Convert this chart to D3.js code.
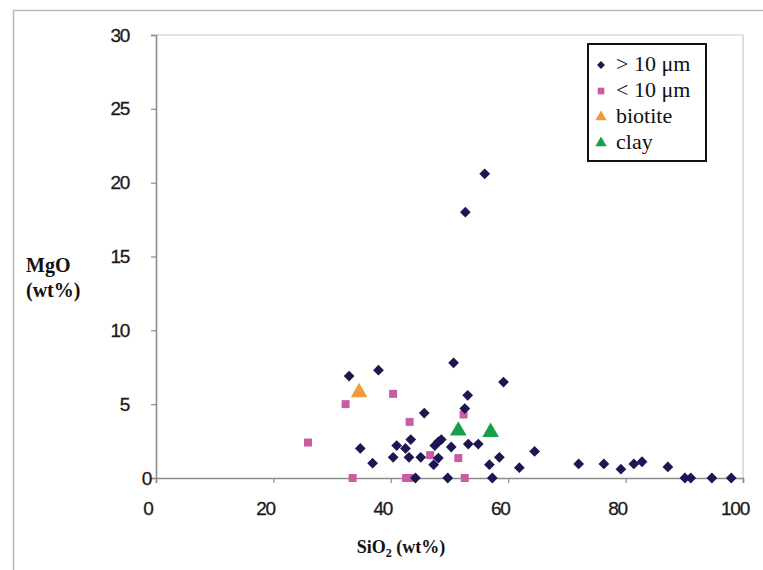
<!DOCTYPE html>
<html>
<head>
<meta charset="utf-8">
<script src="https://cdn.jsdelivr.net/npm/d3@7/dist/d3.min.js"></script>
<style>
  html, body { margin: 0; padding: 0; background: #fff; }
  svg { display: block; }
  .tick-label { font-family: "Liberation Sans", Arial, sans-serif; font-size: 19px; fill: #1a1a1a; letter-spacing: -1.3px; stroke: #1a1a1a; stroke-width: 0.3px; }
  .axis-title { font-family: "Liberation Serif", "DejaVu Serif", serif; font-weight: bold; fill: #111; }
  .legend-text { font-family: "Liberation Serif", "DejaVu Serif", serif; font-size: 22px; fill: #111; }
</style>
</head>
<body>
<svg id="chart" width="763" height="570"></svg>
<script>
// SiO2 vs MgO (wt%) for particle groups
const coarse = [ // > 10 µm
  [32.9, 6.9], [37.9, 7.3], [50.7, 7.8], [59.2, 6.5], [53.1, 5.6], [52.6, 4.7], [45.7, 4.4],
  [56.0, 20.6], [52.7, 18.0],
  [34.8, 2.0], [36.9, 1.0], [41.0, 2.2], [40.4, 1.4], [42.5, 2.0], [43.4, 2.6], [43.1, 1.4], [45.1, 1.4],
  [47.5, 2.2], [48.1, 2.45], [48.6, 2.6], [48.1, 1.35], [47.3, 0.9], [50.3, 2.1], [53.2, 2.3], [54.9, 2.3],
  [56.8, 0.9], [58.5, 1.4], [61.9, 0.7], [64.5, 1.8], [72.0, 0.95], [76.3, 0.95], [79.2, 0.6],
  [81.4, 0.95], [82.8, 1.1], [87.2, 0.75],
  [44.2, 0], [49.7, 0], [57.3, 0], [90.1, 0], [91.1, 0], [94.7, 0], [98.0, 0]
];
const fine = [ // < 10 µm
  [25.9, 2.4], [32.3, 5.0], [40.4, 5.7], [43.2, 3.8], [52.4, 4.3], [46.7, 1.55], [51.5, 1.35],
  [33.5, 0], [42.6, 0], [43.4, 0], [52.6, 0]
];
const biotite = [[34.6, 5.8]];
const clay = [[51.5, 3.2], [57.0, 3.1]];

const xTicks = [0, 20, 40, 60, 80, 100];
const yTicks = [0, 5, 10, 15, 20, 25, 30];
const legendLabels = ["> 10 \u03bcm", "< 10 \u03bcm", "biotite", "clay"];

const colors = { coarse: "#1c1752", fine: "#c95d9f", biotite: "#f09a3c", clay: "#15a049" };

const svg = d3.select("#chart");

// outer frame
svg.append("path")
  .attr("d", "M13.5,570 L13.5,10.5 L763,10.5")
  .attr("fill", "none").attr("stroke", "#b8b8b8").attr("stroke-width", 1.5);

const x = d3.scaleLinear().domain([0, 100]).range([156, 743]);
const y = d3.scaleLinear().domain([0, 30]).range([478, 35]);

// plot area border (top and right)
svg.append("path")
  .attr("d", `M${x(0)},${y(30)} L${x(100)},${y(30)} L${x(100)},${y(0)}`)
  .attr("fill", "none").attr("stroke", "#c8c8c8").attr("stroke-width", 1.2);

// y axis
const yAxis = svg.append("g").attr("transform", `translate(${x(0)},0)`)
  .call(d3.axisLeft(y).tickValues(yTicks).tickSize(5).tickFormat(""));
yAxis.select(".domain").attr("stroke", "#8c8c8c").attr("stroke-width", 1.6);
yAxis.selectAll(".tick line").attr("stroke", "#8c8c8c").attr("stroke-width", 1.2);

// x axis
const xAxis = svg.append("g").attr("transform", `translate(0,${y(0)})`)
  .call(d3.axisBottom(x).tickValues(xTicks).tickSize(5).tickFormat(""));
xAxis.select(".domain").attr("stroke", "#8c8c8c").attr("stroke-width", 1.6);
xAxis.selectAll(".tick line").attr("stroke", "#8c8c8c").attr("stroke-width", 1.2);

// tick labels
svg.append("g").selectAll("text").data(yTicks).join("text")
  .attr("class", "tick-label")
  .attr("text-anchor", "end")
  .attr("x", d => d === 0 ? 151 : 129)
  .attr("y", d => y(d))
  .attr("dy", "0.35em")
  .text(d => d);

svg.append("g").selectAll("text").data(xTicks).join("text")
  .attr("class", "tick-label")
  .attr("text-anchor", "middle")
  .attr("x", d => x(d) - 8)
  .attr("y", 515)
  .text(d => d);

// axis titles
const yTitle = svg.append("text").attr("class", "axis-title").attr("font-size", 20).attr("x", 26).attr("y", 272);
yTitle.append("tspan").attr("x", 26).text("MgO");
yTitle.append("tspan").attr("x", 26).attr("dy", 25).text("(wt%)");

const xTitle = svg.append("text").attr("class", "axis-title").attr("font-size", 18)
  .attr("x", 401).attr("y", 553).attr("text-anchor", "middle");
xTitle.append("tspan").text("SiO");
xTitle.append("tspan").attr("font-size", 12).attr("dy", 4).text("2");
xTitle.append("tspan").attr("dy", -4).text(" (wt%)");

// markers
const shapes = {
  coarse: d3.symbol().type(d3.symbolDiamond2).size(74),
  fine: d3.symbol().type(d3.symbolSquare).size(64),
  tri: d3.symbol().type(d3.symbolTriangle).size(120)
};

function plot(data, shape, color) {
  svg.append("g").selectAll("path").data(data).join("path")
    .attr("d", shape)
    .attr("transform", d => `translate(${x(d[0])},${y(d[1])})`)
    .attr("fill", color);
}
plot(fine, shapes.fine, colors.fine);
plot(coarse, shapes.coarse, colors.coarse);
plot(biotite, shapes.tri, colors.biotite);
plot(clay, shapes.tri, colors.clay);

// legend
const lg = svg.append("g");
lg.append("rect").attr("x", 588).attr("y", 44).attr("width", 118).attr("height", 117)
  .attr("fill", "#fff").attr("stroke", "#111").attr("stroke-width", 2);
const legendShapes = [
  [d3.symbol().type(d3.symbolDiamond2).size(40), colors.coarse],
  [d3.symbol().type(d3.symbolSquare).size(44), colors.fine],
  [d3.symbol().type(d3.symbolTriangle).size(56), colors.biotite],
  [d3.symbol().type(d3.symbolTriangle).size(56), colors.clay]
];
legendLabels.forEach((label, i) => {
  const cy = 63 + i * 26;
  lg.append("path").attr("d", legendShapes[i][0])
    .attr("transform", `translate(601,${cy + 2})`).attr("fill", legendShapes[i][1]);
  lg.append("text").attr("class", "legend-text").attr("x", 616).attr("y", cy).attr("dy", "0.35em").text(label);
});
</script>
</body>
</html>
